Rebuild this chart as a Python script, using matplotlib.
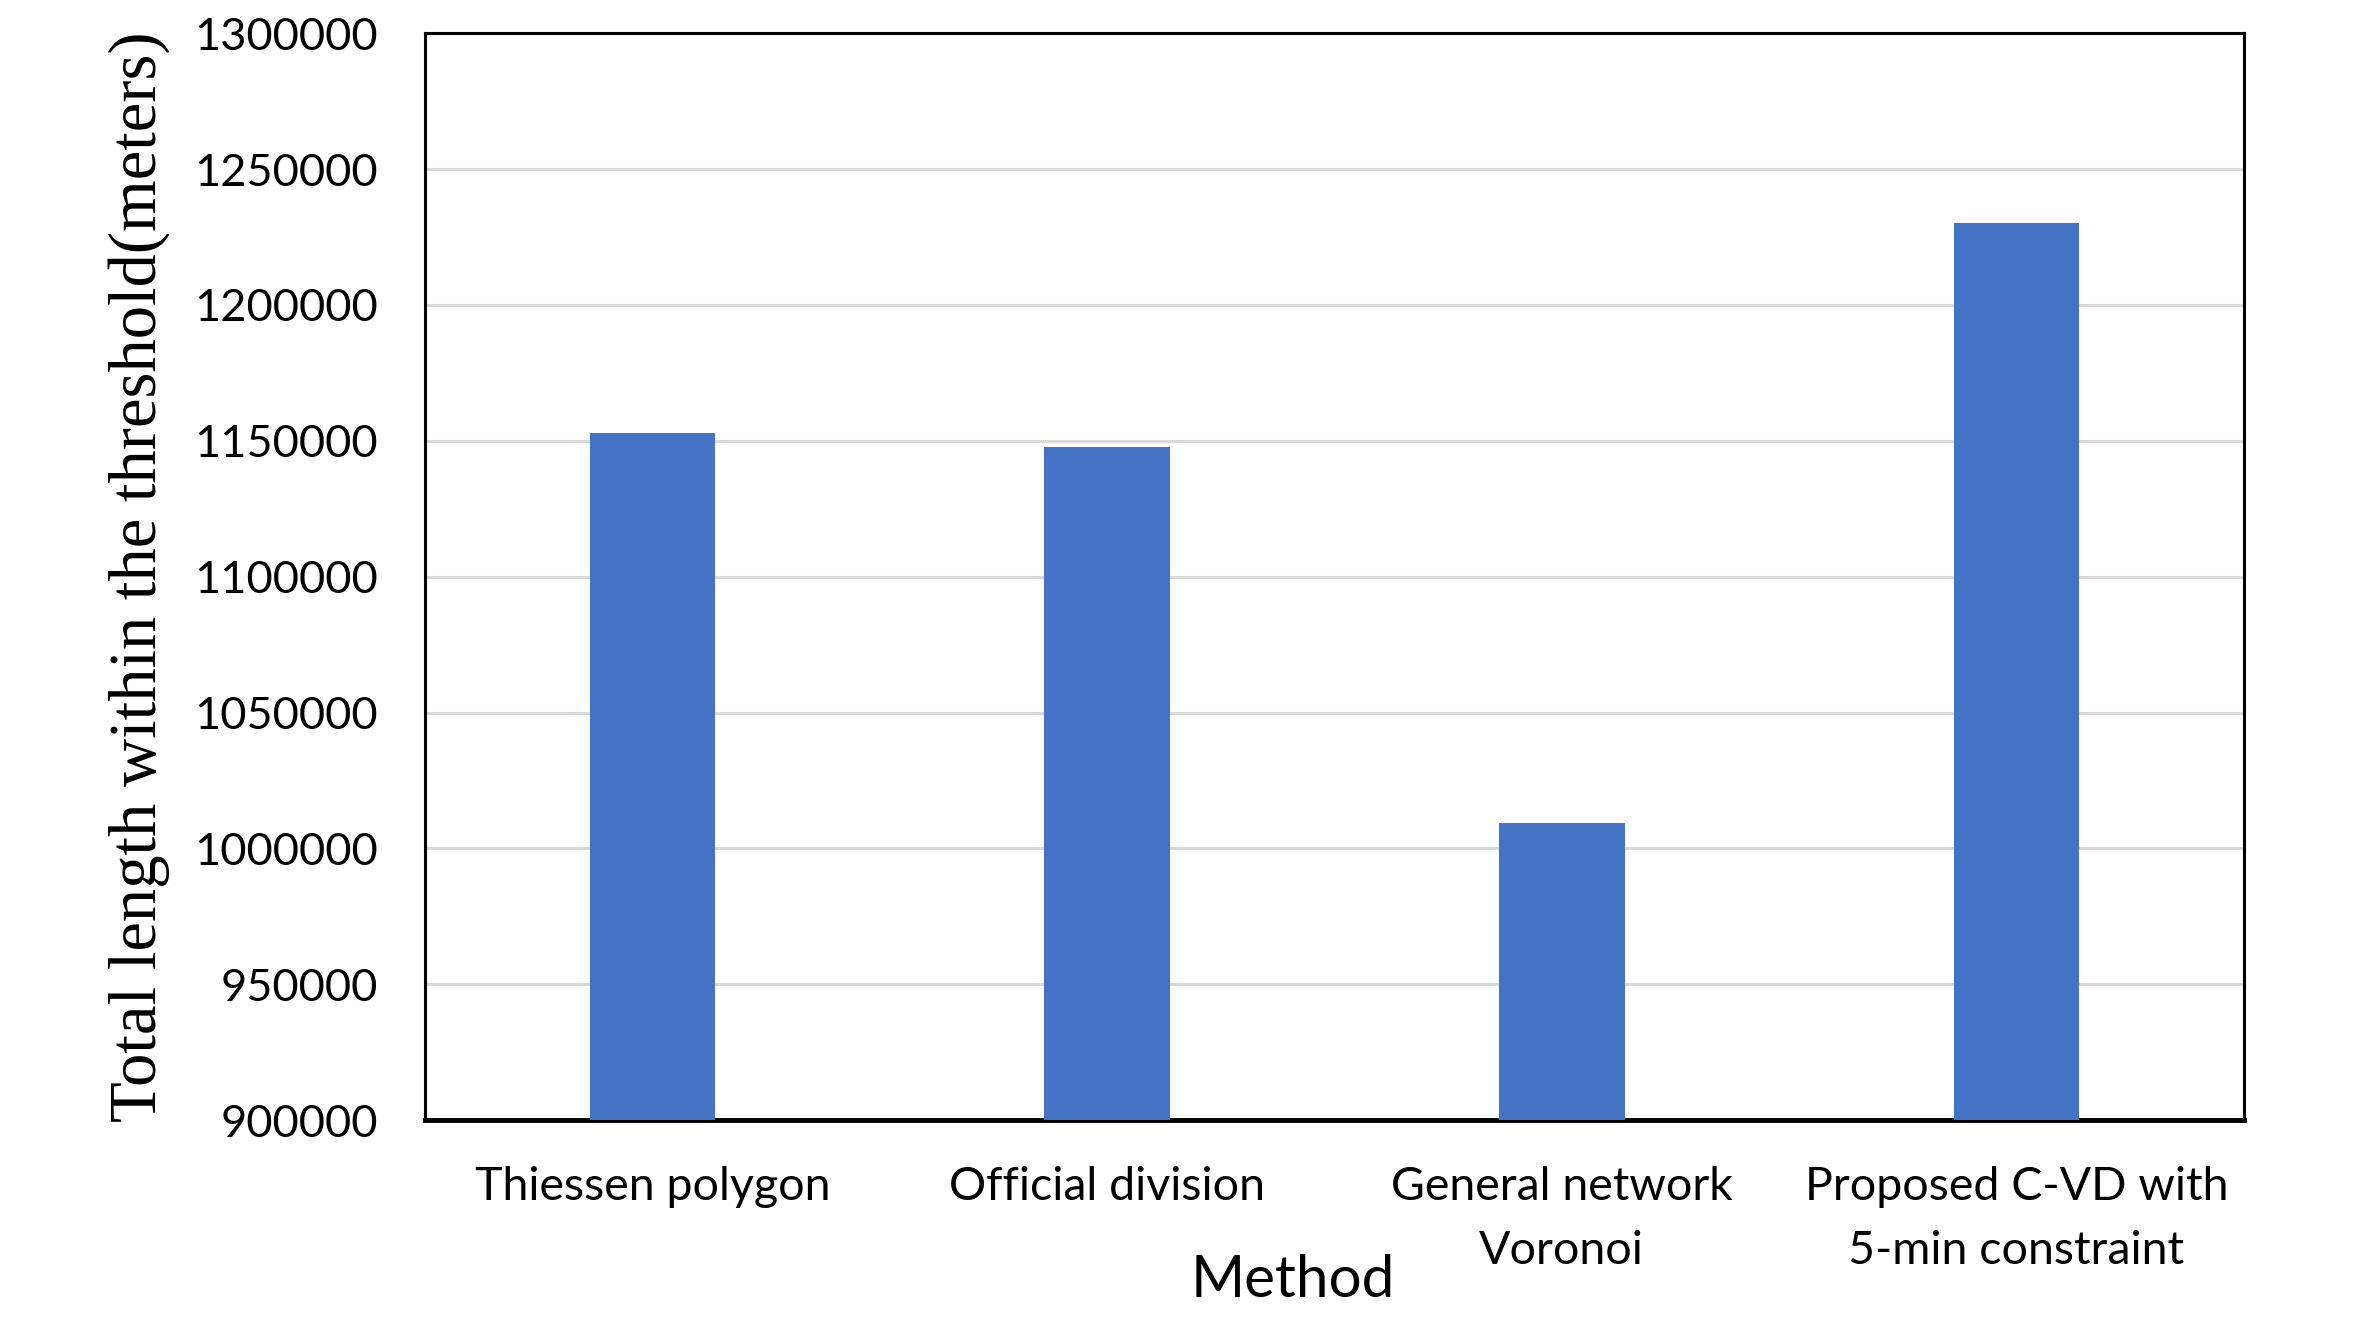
import matplotlib
matplotlib.use("Agg")
import matplotlib.pyplot as plt

# data
methods = ["Thiessen polygon", "Official division", "General network\nVoronoi",
           "Proposed C-VD with\n5-min constraint"]
total_length = [1153000, 1147800, 1009500, 1230000]
y_ticks = [900000, 950000, 1000000, 1050000, 1100000, 1150000, 1200000, 1250000, 1300000]

bar_color = "#4472C4"
tick_font = "Lato"

fig = plt.figure(figsize=(23.71, 13.44), dpi=100)
ax = fig.add_axes([0.1792, 0.1665, 0.9464 - 0.1792, 0.9753 - 0.1665])

x = list(range(len(methods)))
ax.bar(x, total_length, width=0.276, color=bar_color, zorder=3)

ax.set_xlim(-0.5, len(methods) - 0.5)
ax.set_ylim(y_ticks[0], y_ticks[-1])
ax.set_yticks(y_ticks)
ax.set_yticklabels([str(v) for v in y_ticks], fontsize=32.5, family=tick_font)
ax.set_xticks(x)
ax.set_xticklabels(methods, fontsize=33.5, family=tick_font, linespacing=1.65)
ax.tick_params(axis="both", length=0)
ax.tick_params(axis="y", pad=34)
ax.tick_params(axis="x", pad=33)

ax.grid(axis="y", color="#d9d9d9", linewidth=2.2, zorder=0)
for side in ["top", "left", "right"]:
    ax.spines[side].set_linewidth(2.2)
    ax.spines[side].set_color("black")
ax.spines["bottom"].set_linewidth(3.5)
ax.spines["bottom"].set_color("black")

ax.set_ylabel("Total length within the threshold(meters)", fontsize=48,
              family="Liberation Serif")
ax.yaxis.set_label_coords(-0.140, 0.5)

fig.text(0.5453, 0.0472, "Method", fontsize=42, family=tick_font,
         ha="center", va="center")

fig.savefig("out.png", dpi=100, facecolor="white")
